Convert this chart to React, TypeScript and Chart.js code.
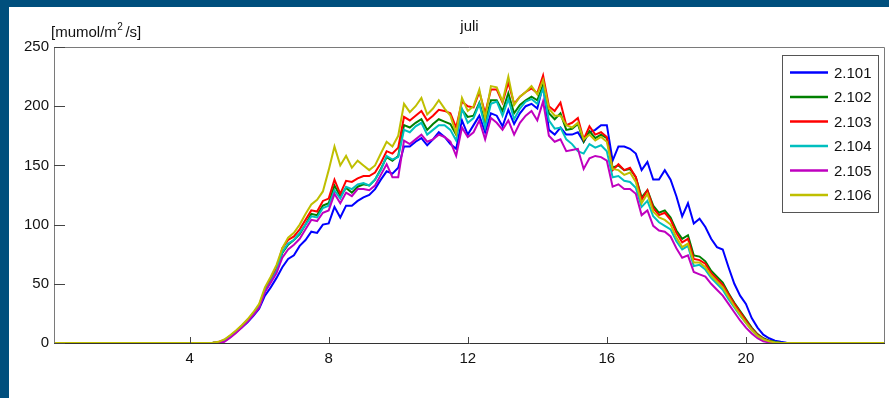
import React, { useEffect, useRef } from 'react';
import { Chart, registerables } from 'chart.js';

Chart.register(...registerables);

// ---- data ----
const TITLE = 'juli';
const Y_LABEL_MAIN = '[mumol/m';
const Y_LABEL_SUP = '2';
const Y_LABEL_END = '/s]';

const X_MIN = 0.1;
const X_MAX = 24;
const START_HOUR = 14 / 3; // 04:40
const STEP_HOUR = 1 / 6; // 10 minutes

const X_TICKS = [4, 8, 12, 16, 20];
const Y_TICKS = [0, 50, 100, 150, 200, 250];

const SERIES_LABELS = ['2.101', '2.102', '2.103', '2.104', '2.105', '2.106'];
const SERIES_COLORS = ['#0000ff', '#008000', '#ff0000', '#00bfbf', '#bf00bf', '#bfbf00'];

const S2101 = [
  0, 0.3, 1.5, 5, 9, 13, 17.5, 23, 29, 40, 47, 55, 64, 71, 74, 82, 87, 94, 93, 100,
  101, 115, 106, 116, 116, 120, 123, 125, 130, 138, 145, 143, 148, 166, 166, 170, 173, 167, 172, 178,
  174, 168, 164, 188, 176, 184, 192, 178, 194, 192, 183, 197, 185, 194, 200, 202, 198, 218, 180, 176,
  182, 176, 176, 178, 170, 178, 180, 184, 184, 154, 166, 166, 164, 160, 146, 153, 138, 138, 146, 138,
  124, 107, 118, 101, 105, 98, 88, 81, 79, 64, 50, 40, 33, 21, 13, 7, 4, 2, 1, 0.3, 0,
];
const S2102 = [
  0.2, 0.5, 2, 5.5, 9.5, 14, 19, 24.5, 31, 44, 52, 61, 76, 83, 87, 92, 100, 109, 108, 116,
  118, 133, 124, 131, 127, 132, 134, 133, 138, 147, 157, 154, 158, 184, 182, 186, 189, 180, 185, 189,
  187, 185, 176, 197, 191, 192, 203, 186, 205, 205, 196, 211, 194, 201, 205, 208, 205, 218, 194, 189,
  194, 180, 181, 185, 170, 179, 173, 176, 173, 148, 150, 146, 147, 140, 123, 129, 116, 110, 112, 106,
  95, 88, 91, 74, 73, 69, 61, 56, 51, 42, 34, 27, 20, 13, 7.5, 4, 2, 1, 0.3, 0, 0,
];
const S2103 = [
  0.2, 0.8, 2.5, 6, 10, 14.5, 19.5, 25, 32, 45, 54, 63, 80, 87, 90, 96, 104, 112, 111, 120,
  122, 138, 126, 137, 136, 139, 141, 141, 144, 152, 162, 160, 165, 191, 188, 192, 196, 188, 192, 197,
  196, 194, 182, 204, 200, 199, 212, 194, 214, 214, 203, 220, 202, 208, 212, 215, 211, 226, 200, 196,
  203, 184, 186, 190, 172, 183, 176, 178, 174, 146, 151, 146, 148, 140, 121, 129, 114, 108, 110, 104,
  93, 85, 88, 71, 70, 67, 59, 54, 49, 41, 33, 26, 19, 12, 7, 3.5, 1.5, 0.5, 0, 0, 0,
];
const S2104 = [
  0.2, 0.5, 2, 5.5, 9.5, 14, 19, 24.5, 31, 44, 52, 61, 77, 84, 87, 93, 100, 107, 106, 114,
  116, 129, 122, 132, 130, 134, 135, 133, 138, 146, 158, 155, 157, 180, 178, 183, 186, 176, 180, 184,
  184, 180, 171, 198, 186, 190, 202, 182, 202, 204, 192, 206, 189, 198, 204, 206, 202, 215, 188, 181,
  182, 172, 168, 162, 160, 168, 165, 167, 162, 140, 141, 137, 136, 131, 115, 120, 107, 102, 99, 96,
  86, 79, 82, 65, 66, 62, 55, 50, 45, 37, 30, 23, 17, 11, 6, 3, 1, 0.5, 0, 0, 0,
];
const S2105 = [
  0, 0.2, 1, 4.5, 8.5, 13, 18, 23.5, 30, 43, 51, 59, 72, 79, 83, 88, 96, 104, 103, 110,
  112, 126, 118, 127, 124, 130, 130, 129, 133, 142, 151, 140, 140, 171, 168, 172, 176, 170, 172, 176,
  174, 170, 158, 182, 174, 178, 188, 172, 190, 186, 180, 188, 176, 186, 192, 196, 188, 204, 175, 170,
  172, 162, 163, 164, 147, 156, 158, 157, 154, 132, 134, 130, 130, 126, 108, 112, 99, 95, 94, 90,
  80, 72, 74, 60, 58, 56, 50, 45, 40, 33, 26, 19, 13, 8, 4, 1.5, 0.5, 0, 0, 0, 0,
];
const S2106 = [
  0.3, 1, 3, 6.5, 10.5, 15, 20, 26, 33, 47, 56, 66, 80, 89, 93, 100, 109, 117, 121, 128,
  146, 166, 150, 158, 148, 154, 150, 146, 150, 160, 170, 166, 175, 202, 195, 200, 207, 193, 198, 205,
  198, 192, 177, 207, 196, 200, 214, 190, 217, 216, 204, 225, 201, 208, 212, 217, 210, 222, 198, 192,
  192, 184, 182, 186, 172, 176, 171, 174, 170, 147, 146, 142, 144, 136, 118, 126, 111, 106, 104, 100,
  89, 81, 84, 68, 68, 64, 57, 52, 47, 39, 31, 24, 17, 11, 6, 3, 1.5, 0.5, 0, 0, 0,
];

const SERIES_VALUES = [S2101, S2102, S2103, S2104, S2105, S2106];

// ---- style ----
const FONT_FAMILY = '"Liberation Sans", Arial, sans-serif';
const FONT_SIZE = 15;
const FRAME_COLOR = '#004f7d';

function toPoints(values: number[]) {
  const pts = [{ x: X_MIN, y: 0 }];
  values.forEach((v, i) => pts.push({ x: START_HOUR + i * STEP_HOUR, y: v }));
  pts.push({ x: X_MAX, y: 0 });
  return pts;
}

const decorPlugin = {
  id: 'matlabDecor',
  afterDraw(chart: any) {
    const { ctx, chartArea, scales } = chart;
    const { left, right, top, bottom } = chartArea;
    ctx.save();
    // box
    ctx.lineWidth = 1;
    ctx.strokeStyle = '#7a7a7a';
    ctx.beginPath();
    ctx.moveTo(left + 0.5, bottom);
    ctx.lineTo(left + 0.5, top + 0.5);
    ctx.lineTo(right - 0.5, top + 0.5);
    ctx.lineTo(right - 0.5, bottom);
    ctx.stroke();
    ctx.strokeStyle = '#333333';
    ctx.beginPath();
    ctx.moveTo(left, bottom + 0.5);
    ctx.lineTo(right, bottom + 0.5);
    ctx.stroke();
    // inward ticks
    ctx.strokeStyle = '#444444';
    ctx.beginPath();
    Y_TICKS.forEach((v) => {
      const py = Math.round(scales.y.getPixelForValue(v)) + 0.5;
      ctx.moveTo(left, py);
      ctx.lineTo(left + 11, py);
    });
    X_TICKS.forEach((v) => {
      const px = Math.round(scales.x.getPixelForValue(v)) + 0.5;
      ctx.moveTo(px, bottom);
      ctx.lineTo(px, bottom - 6);
    });
    ctx.stroke();

    // title & y label
    ctx.fillStyle = '#111111';
    ctx.font = `${FONT_SIZE}px ${FONT_FAMILY}`;
    ctx.textBaseline = 'alphabetic';
    ctx.textAlign = 'center';
    ctx.fillText(TITLE, (left + right) / 2, 31);
    ctx.textAlign = 'left';
    let x = 51;
    ctx.fillText(Y_LABEL_MAIN, x, 37);
    x += ctx.measureText(Y_LABEL_MAIN).width;
    ctx.font = `10px ${FONT_FAMILY}`;
    ctx.fillText(Y_LABEL_SUP, x + 0.5, 30);
    x += ctx.measureText(Y_LABEL_SUP).width + 3;
    ctx.font = `${FONT_SIZE}px ${FONT_FAMILY}`;
    ctx.fillText(Y_LABEL_END, x, 37);

    // legend
    const bx = 782, by = 55, bw = 96, bh = 157;
    ctx.fillStyle = '#ffffff';
    ctx.fillRect(bx, by, bw, bh);
    ctx.strokeStyle = '#555555';
    ctx.lineWidth = 1;
    ctx.strokeRect(bx + 0.5, by + 0.5, bw, bh);
    chart.data.datasets.forEach((ds: any, i: number) => {
      const ly = 72.5 + i * 24.5;
      ctx.strokeStyle = ds.borderColor;
      ctx.lineWidth = 2.5;
      ctx.beginPath();
      ctx.moveTo(790, ly);
      ctx.lineTo(828, ly);
      ctx.stroke();
      ctx.fillStyle = '#111111';
      ctx.font = `${FONT_SIZE}px ${FONT_FAMILY}`;
      ctx.textAlign = 'left';
      ctx.textBaseline = 'middle';
      ctx.fillText(ds.label, 834, ly + 1);
    });
    ctx.restore();
  },
};

export default function App() {
  const canvasRef = useRef<HTMLCanvasElement | null>(null);

  useEffect(() => {
    const canvas = canvasRef.current;
    if (!canvas) return;
    const datasets = SERIES_LABELS.map((label, i) => ({
      label,
      data: toPoints(SERIES_VALUES[i]),
      borderColor: SERIES_COLORS[i],
      backgroundColor: SERIES_COLORS[i],
      borderWidth: 2,
      pointRadius: 0,
      tension: 0,
      fill: false,
      order: SERIES_LABELS.length - 1 - i,
    }));
    const chart = new Chart(canvas, {
      type: 'line',
      data: { datasets },
      options: {
        animation: false,
        responsive: false,
        maintainAspectRatio: false,
        parsing: false as any,
        layout: { padding: { top: 47, right: 4, left: 0, bottom: 0 } },
        plugins: {
          legend: { display: false },
          title: { display: false },
          tooltip: { enabled: false },
        },
        scales: {
          x: {
            type: 'linear',
            min: X_MIN,
            max: X_MAX,
            grid: { display: false, drawTicks: false },
            border: { display: false },
            ticks: {
              color: '#111111',
              font: { family: FONT_FAMILY, size: FONT_SIZE },
              padding: 7,
              maxRotation: 0,
              autoSkip: false,
            },
            afterBuildTicks: (s: any) => {
              s.ticks = X_TICKS.map((v) => ({ value: v }));
            },
            afterFit: (s: any) => {
              s.height = 55;
            },
          },
          y: {
            type: 'linear',
            min: 0,
            max: 250,
            grid: { display: false, drawTicks: false },
            border: { display: false },
            ticks: {
              color: '#111111',
              font: { family: FONT_FAMILY, size: FONT_SIZE },
              padding: 5,
              autoSkip: false,
            },
            afterBuildTicks: (s: any) => {
              s.ticks = Y_TICKS.map((v) => ({ value: v }));
            },
            afterFit: (s: any) => {
              s.width = 54;
            },
          },
        },
      },
      plugins: [decorPlugin],
    });
    return () => chart.destroy();
  }, []);

  return (
    <div
      style={{
        position: 'fixed',
        left: 0,
        top: 0,
        width: 889,
        height: 398,
        background: FRAME_COLOR,
        overflow: 'hidden',
      }}
    >
      <div
        style={{
          position: 'absolute',
          left: 9,
          top: 7,
          width: 880,
          height: 391,
          background: '#ffffff',
        }}
      />
      <canvas
        ref={canvasRef}
        width={889}
        height={398}
        style={{ position: 'absolute', left: 0, top: 0, width: 889, height: 398 }}
      />
    </div>
  );
}
